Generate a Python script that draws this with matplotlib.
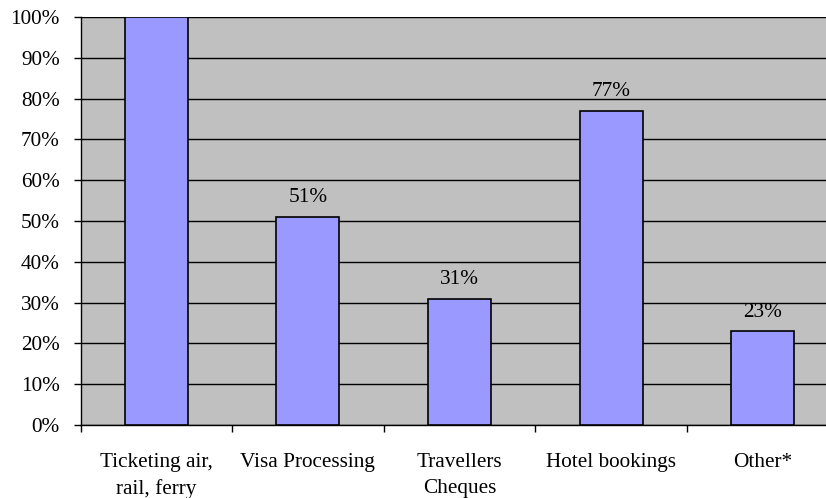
import matplotlib
matplotlib.use('Agg')
import matplotlib.pyplot as plt
import numpy as np

# Chart data
categories = ['Ticketing air,\nrail, ferry', 'Visa Processing', 'Travellers\nCheques',
              'Hotel bookings', 'Other*']
values = [100, 51, 31, 77, 23]

plt.rcParams['font.family'] = ['Liberation Serif', 'DejaVu Serif']
fs = 15.3

fig = plt.figure(figsize=(8.26, 4.98), dpi=100)
ax = fig.add_axes([80.5 / 826, 73 / 498, 758 / 826, 408 / 498])
ax.set_facecolor('#C0C0C0')

x = np.arange(len(categories))
ax.bar(x, values, width=0.415, color='#9999FF', edgecolor='black', linewidth=1.2, zorder=3)

# Data labels above bars (the 100% one falls off the top of the image)
for xi, v in zip(x, values):
    if v < 100:
        ax.annotate(f'{v}%', (xi, v), xytext=(0, 10.5), textcoords='offset points',
                    ha='center', va='baseline', fontsize=fs)

ax.set_xlim(-0.5, len(categories) - 0.5)
ax.set_ylim(0, 100)
ax.set_yticks(np.arange(0, 101, 10))
ax.set_yticklabels([f'{t}%' for t in range(0, 101, 10)], fontsize=fs)
ax.yaxis.grid(True, color='black', linewidth=1, zorder=1)
ax.set_axisbelow(True)

# Category labels, ticks between categories
ax.set_xticks(x)
ax.set_xticklabels(categories, fontsize=fs, linespacing=1.5)
ax.tick_params(axis='x', which='major', length=0, pad=20)
ax.set_xticks(np.arange(-0.5, len(categories), 1), minor=True)
ax.tick_params(axis='x', which='minor', length=5, width=1, direction='out')
ax.tick_params(axis='y', length=5, width=1, direction='out', pad=10)

for side in ['top', 'right']:
    ax.spines[side].set_visible(False)
ax.spines['left'].set_linewidth(1)
ax.spines['bottom'].set_linewidth(1)

fig.savefig('out.png', dpi=100)
